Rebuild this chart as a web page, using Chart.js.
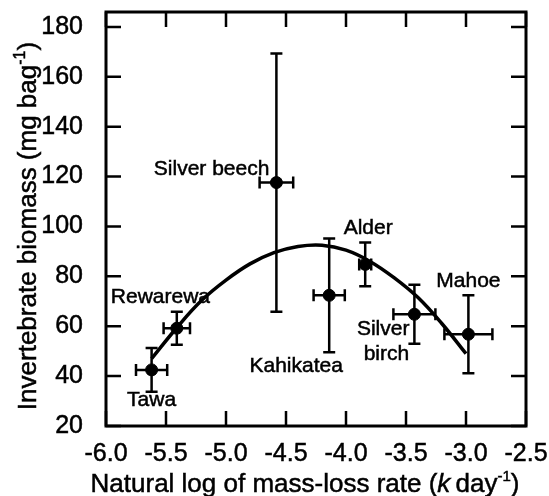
<!DOCTYPE html>
<html>
<head>
<meta charset="utf-8">
<script src="https://cdn.jsdelivr.net/npm/chart.js@4.4.0/dist/chart.umd.min.js"></script>
<style>
html, body { margin: 0; padding: 0; background: #fff; }
#wrap { width: 549px; height: 496px; position: relative; }
</style>
</head>
<body>
<div id="wrap"><canvas id="myChart"></canvas></div>
<script>
// species means
var species = ["Tawa", "Rewarewa", "Silver beech", "Kahikatea", "Alder", "Silver birch", "Mahoe"];
var logRate = [-5.62, -5.41, -4.58, -4.14, -3.84, -3.43, -2.98];
var logRateErr = [0.13, 0.11, 0.14, 0.13, 0.05, 0.175, 0.2];
var biomass = [42.5, 59.2, 117.6, 72.4, 84.8, 64.8, 56.8];
var biomassErr = [8.8, 6.6, 51.8, 22.8, 8.8, 11.8, 15.6];

// fitted curve
var fitX = [-5.62, -5.4, -5.2, -5.0, -4.8, -4.6, -4.4, -4.2, -4.0, -3.8, -3.6, -3.4, -3.2, -3.0];
var fitY = [47, 60, 70.5, 78.5, 85, 89.5, 92, 92.5, 90.5, 86, 79.5, 71.5, 61, 49];

var xTicks = [-6.0, -5.5, -5.0, -4.5, -4.0, -3.5, -3.0, -2.5];
var yTicks = [20, 40, 60, 80, 100, 120, 140, 160, 180];

// where each species name sits, relative to its point (px)
var labelSpots = [
  [{t: "Tawa", dx: 0, dy: 36, a: "center"}],
  [{t: "Rewarewa", dx: -66, dy: -25, a: "left"}],
  [{t: "Silver beech", dx: -7, dy: -8, a: "right"}],
  [{t: "Kahikatea", dx: -33, dy: 77, a: "center"}],
  [{t: "Alder", dx: 3, dy: -30, a: "center"}],
  [{t: "Silver", dx: -5, dy: 21, a: "right"}, {t: "birch", dx: -28, dy: 46, a: "center"}],
  [{t: "Mahoe", dx: 0, dy: -47, a: "center"}]
];

var FONT = '"Liberation Sans", Arial, Helvetica, sans-serif';

var points = species.map(function(s, i) {
  return {x: logRate[i], y: biomass[i]};
});
var curve = fitX.map(function(x, i) {
  return {x: x, y: fitY[i]};
});

var figurePlugin = {
  id: 'figure',
  beforeDatasetsDraw: function(chart) {
    var ctx = chart.ctx, xs = chart.scales.x, ys = chart.scales.y;
    var cap = 6;
    ctx.save();
    ctx.strokeStyle = '#000';
    ctx.lineWidth = 2.5;
    for (var i = 0; i < species.length; i++) {
      var px = xs.getPixelForValue(logRate[i]);
      var py = ys.getPixelForValue(biomass[i]);
      var yt = ys.getPixelForValue(biomass[i] + biomassErr[i]);
      var yb = ys.getPixelForValue(biomass[i] - biomassErr[i]);
      var xl = xs.getPixelForValue(logRate[i] - logRateErr[i]);
      var xr = xs.getPixelForValue(logRate[i] + logRateErr[i]);
      ctx.beginPath();
      ctx.moveTo(px, yt); ctx.lineTo(px, yb);
      ctx.moveTo(px - cap, yt); ctx.lineTo(px + cap, yt);
      ctx.moveTo(px - cap, yb); ctx.lineTo(px + cap, yb);
      ctx.moveTo(xl, py); ctx.lineTo(xr, py);
      ctx.moveTo(xl, py - cap); ctx.lineTo(xl, py + cap);
      ctx.moveTo(xr, py - cap); ctx.lineTo(xr, py + cap);
      ctx.stroke();
    }
    ctx.restore();
  },
  afterDraw: function(chart) {
    var ctx = chart.ctx, a = chart.chartArea, xs = chart.scales.x, ys = chart.scales.y;
    var tick = 15;
    ctx.save();
    ctx.strokeStyle = '#000';
    ctx.lineWidth = 2.5;
    ctx.beginPath();
    xTicks.forEach(function(v) {
      var x = xs.getPixelForValue(v);
      ctx.moveTo(x, a.bottom); ctx.lineTo(x, a.bottom - tick);
      ctx.moveTo(x, a.top); ctx.lineTo(x, a.top + tick);
    });
    yTicks.forEach(function(v) {
      var y = ys.getPixelForValue(v);
      ctx.moveTo(a.left, y); ctx.lineTo(a.left + tick, y);
      ctx.moveTo(a.right, y); ctx.lineTo(a.right - tick, y);
    });
    ctx.stroke();
    ctx.lineWidth = 3;
    ctx.strokeRect(a.left, a.top, a.right - a.left, a.bottom - a.top);

    // species names
    ctx.fillStyle = '#000';
    ctx.strokeStyle = '#000';
    ctx.lineWidth = 0.5;
    ctx.font = '21px ' + FONT;
    ctx.textBaseline = 'alphabetic';
    labelSpots.forEach(function(list, i) {
      var px = xs.getPixelForValue(logRate[i]);
      var py = ys.getPixelForValue(biomass[i]);
      list.forEach(function(l) {
        ctx.textAlign = l.a;
        ctx.fillText(l.t, px + l.dx, py + l.dy);
        ctx.strokeText(l.t, px + l.dx, py + l.dy);
      });
    });

    // axis titles with italic k and superscripts
    drawRich(ctx, [
      {t: 'Natural log of mass-loss rate (', f: '26px ' + FONT},
      {t: 'k', f: 'italic 26px ' + FONT},
      {t: '\u2009day', f: '26px ' + FONT},
      {t: '-1', f: '15px ' + FONT, up: 11},
      {t: ')', f: '26px ' + FONT}
    ], (a.left + a.right) / 2 - 11, 492, 0);
    drawRich(ctx, [
      {t: 'Invertebrate biomass (mg bag', f: '26px ' + FONT},
      {t: '-1', f: '16px ' + FONT, up: 11},
      {t: ')', f: '26px ' + FONT}
    ], 36, (a.top + a.bottom) / 2 + 7, -Math.PI / 2);
    ctx.restore();
  }
};

function drawRich(ctx, parts, cx, cy, rot) {
  var total = 0;
  parts.forEach(function(p) {
    ctx.font = p.f;
    p.w = ctx.measureText(p.t).width;
    total += p.w;
  });
  ctx.save();
  ctx.translate(cx, cy);
  ctx.rotate(rot);
  ctx.textAlign = 'left';
  ctx.textBaseline = 'alphabetic';
  ctx.lineWidth = 0.5;
  var x = -total / 2;
  parts.forEach(function(p) {
    ctx.font = p.f;
    ctx.fillText(p.t, x, -(p.up || 0));
    ctx.strokeText(p.t, x, -(p.up || 0));
    x += p.w;
  });
  ctx.restore();
}

var ctx = document.getElementById('myChart').getContext('2d');
var myChart = new Chart(ctx, {
  type: 'scatter',
  data: {
    datasets: [
      {
        data: points,
        pointStyle: 'circle',
        pointRadius: 6,
        pointBackgroundColor: '#000',
        pointBorderColor: '#000',
        showLine: false
      },
      {
        data: curve,
        showLine: true,
        borderColor: '#000',
        borderWidth: 3.5,
        pointRadius: 0,
        tension: 0.4,
        fill: false
      }
    ]
  },
  options: {
    responsive: true,
    maintainAspectRatio: false,
    animation: false,
    events: [],
    layout: {padding: {left: 0, right: 23, top: 12, bottom: 0}},
    plugins: {legend: {display: false}, tooltip: {enabled: false}},
    scales: {
      x: {
        type: 'linear',
        min: -6,
        max: -2.5,
        grid: {display: false},
        border: {display: false},
        afterFit: function(s) { s.height = 70; s.paddingLeft = 0; s.paddingRight = 0; },
        afterBuildTicks: function(s) {
          s.ticks = xTicks.map(function(v) { return {value: v}; });
        },
        ticks: {
          padding: 5,
          color: '#000',
          textStrokeColor: '#000',
          textStrokeWidth: 0.5,
          font: {family: FONT, size: 25},
          maxRotation: 0,
          autoSkip: false,
          callback: function(v) { return v.toFixed(1); }
        }
      },
      y: {
        type: 'linear',
        min: 20,
        max: 186,
        grid: {display: false},
        border: {display: false},
        afterFit: function(s) { s.width = 106; s.paddingTop = 0; s.paddingBottom = 0; },
        afterBuildTicks: function(s) {
          s.ticks = yTicks.map(function(v) { return {value: v}; });
        },
        ticks: {
          padding: 15,
          color: '#000',
          textStrokeColor: '#000',
          textStrokeWidth: 0.5,
          font: {family: FONT, size: 25},
          autoSkip: false,
          callback: function(v) { return v; }
        }
      }
    }
  },
  plugins: [figurePlugin]
});
</script>
</body>
</html>
